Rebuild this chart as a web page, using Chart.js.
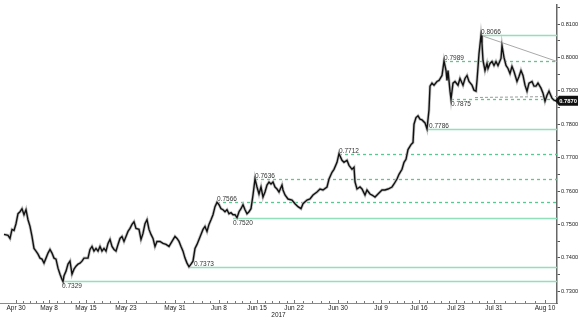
<!DOCTYPE html>
<html>
<head>
<meta charset="utf-8">
<script src="https://cdn.jsdelivr.net/npm/chart.js@4.4.1/dist/chart.umd.min.js"></script>
<style>
  html, body { margin: 0; padding: 0; background: #fff; }
  #wrap { width: 578px; height: 323px; }
</style>
</head>
<body>
<div id="wrap"><canvas id="chart" width="578" height="323"></canvas></div>
<script>
// x is the position along the trading-time axis (weekends skipped), 0..557
const xMax = 557;

// date labels on the x axis and where they sit
const tickLabels = ['Apr 30', 'May 8', 'May 15', 'May 23', 'May 31', 'Jun 8', 'Jun 15', 'Jun 22', 'Jun 30', 'Jul 9', 'Jul 16', 'Jul 23', 'Jul 31', 'Aug 10'];
const tickPos = [16, 49, 86, 126, 175, 219, 257, 294, 338, 381, 419, 456, 494, 545];

// y axis ticks (labels only on the whole hundredths)
const yTicks = [0.7300, 0.7350, 0.7400, 0.7450, 0.7500, 0.7550, 0.7600, 0.7650, 0.7700, 0.7750, 0.7800, 0.7850, 0.7900, 0.7950, 0.8000, 0.8050, 0.8100, 0.8150];

// price series
const priceX = [4, 8, 10, 12, 14, 16, 18, 20, 22, 24, 26, 28, 30, 32, 34, 36, 38, 40, 42, 44, 46, 48, 50, 52, 54, 56, 58, 60, 62, 63, 64, 66, 68, 70, 72, 74, 76, 78, 80, 82, 84, 86, 88, 90, 92, 94, 96, 98, 100, 102, 104, 106, 108, 110, 112, 114, 116, 118, 120, 122, 124, 126, 128, 130, 132, 134, 136,
  139, 141, 143, 145, 147, 149, 151, 153, 155, 157, 160, 163, 166, 169, 172, 175, 177, 179, 181, 183, 185, 187, 189, 191, 193, 195, 197, 199, 201, 203, 205, 207, 209, 211, 213, 215, 217, 219, 221, 223, 225, 227, 229, 231, 233, 235, 237, 239, 241, 243, 245, 247, 249, 251, 253, 255, 257, 259, 261, 263, 265, 267, 269, 271, 273, 275, 277, 279,
  282, 283, 285, 288, 292, 295, 298, 301, 303, 307, 310, 313, 317, 320, 323, 327, 329, 332, 334, 337, 339, 342, 344, 347, 349, 352, 354, 355, 357, 360, 362, 365, 367, 370, 372, 375, 378, 382, 385, 388, 392, 394, 397, 399, 402, 404, 406, 408, 411, 413,
  414, 416, 418, 420, 422, 425, 427, 429, 430, 432, 434, 437, 439, 442, 444, 446, 447, 448, 450, 451, 453, 455, 458, 460, 463, 465, 467, 469, 472, 474, 476, 477, 479, 481, 482, 483, 485, 487, 488, 490, 492, 494, 496, 498, 501, 502, 504, 506, 508, 510, 512, 514, 517, 519, 521, 523, 525, 527, 529, 532, 534, 536, 538, 541, 543, 545, 547, 549, 552, 554, 556];
const priceY = [0.7470, 0.7467, 0.7458, 0.7485, 0.7482, 0.7502, 0.7532, 0.7538, 0.7547, 0.7529, 0.7544, 0.7514, 0.7494, 0.7464, 0.7428, 0.7420, 0.7411, 0.7399, 0.7396, 0.7384, 0.7399, 0.7414, 0.7425, 0.7414, 0.7399, 0.7396, 0.7369, 0.7351, 0.7335, 0.7329, 0.7346, 0.7360, 0.7381, 0.7390, 0.7351, 0.7366, 0.7375, 0.7381, 0.7384, 0.7390, 0.7399, 0.7399, 0.7399, 0.7425, 0.7434, 0.7420, 0.7428, 0.7420, 0.7434, 0.7420, 0.7428, 0.7420, 0.7443, 0.7455, 0.7434, 0.7425, 0.7420, 0.7440, 0.7458, 0.7464, 0.7449, 0.7464, 0.7479, 0.7488, 0.7500, 0.7508, 0.7488,
  0.7485, 0.7455, 0.7473, 0.7502, 0.7514, 0.7485, 0.7470, 0.7458, 0.7434, 0.7449, 0.7449, 0.7443, 0.7440, 0.7434, 0.7449, 0.7464, 0.7458, 0.7449, 0.7434, 0.7420, 0.7399, 0.7384, 0.7373, 0.7381, 0.7390, 0.7428, 0.7440, 0.7455, 0.7470, 0.7485, 0.7494, 0.7479, 0.7500, 0.7514, 0.7529, 0.7553, 0.7566, 0.7559, 0.7547, 0.7544, 0.7538, 0.7544, 0.7532, 0.7535, 0.7529, 0.7529, 0.7520, 0.7538, 0.7547, 0.7559, 0.7544, 0.7532, 0.7538, 0.7547, 0.7588, 0.7636, 0.7612, 0.7591, 0.7612, 0.7582, 0.7597, 0.7618, 0.7627, 0.7621, 0.7627, 0.7612, 0.7606, 0.7597,
  0.7618, 0.7603, 0.7588, 0.7576, 0.7573, 0.7562, 0.7553, 0.7547, 0.7562, 0.7573, 0.7576, 0.7588, 0.7597, 0.7606, 0.7603, 0.7612, 0.7636, 0.7656, 0.7665, 0.7686, 0.7712, 0.7692, 0.7686, 0.7692, 0.7677, 0.7665, 0.7671, 0.7627, 0.7606, 0.7612, 0.7606, 0.7588, 0.7603, 0.7591, 0.7588, 0.7582, 0.7591, 0.7603, 0.7603, 0.7606, 0.7612, 0.7621, 0.7636, 0.7650, 0.7665, 0.7686, 0.7695, 0.7724, 0.7739, 0.7745,
  0.7800, 0.7820, 0.7825, 0.7815, 0.7813, 0.7804, 0.7786, 0.7843, 0.7914, 0.7923, 0.7917, 0.7928, 0.7931, 0.7946, 0.7989, 0.7961, 0.7931, 0.7961, 0.7899, 0.7875, 0.7923, 0.7928, 0.7917, 0.7937, 0.7917, 0.7937, 0.7946, 0.7928, 0.7917, 0.7902, 0.7899, 0.7931, 0.8011, 0.8066, 0.8041, 0.7991, 0.7961, 0.7982, 0.7967, 0.7982, 0.7988, 0.7976, 0.7988, 0.7976, 0.7997, 0.8035, 0.8000, 0.7976, 0.7967, 0.7952, 0.7973, 0.7958, 0.7928, 0.7943, 0.7961, 0.7946, 0.7917, 0.7899, 0.7923, 0.7928, 0.7914, 0.7914, 0.7923, 0.7908, 0.7893, 0.7869, 0.7887, 0.7899, 0.7878, 0.7872, 0.7870];

const lastPrice = 0.7870;

// support / resistance levels and where each one starts
const levelValues = [0.8066, 0.7989, 0.7875, 0.7786, 0.7712, 0.7636, 0.7566, 0.7520, 0.7373, 0.7329];
const levelFrom = [481, 444, 451, 427, 339, 255, 217, 233, 189, 62];

// trend lines
const trendTop = [{ x: 481, y: 0.8066 }, { x: 557, y: 0.7988 }];
const trendLow = [{ x: 475, y: 0.7883 }, { x: 557, y: 0.7885 }];

// how each level is drawn (kept apart from the values)
const levelDashed = [false, true, true, false, true, true, true, false, false, false];
const levelLabelSide = ['above', 'above', 'below', 'above', 'above', 'above', 'above', 'below', 'above', 'below'];
const levelLabelShift = [0, 0, 0, 2, 0, 0, 0, 0, 5, 0];

const solidGreen = '#92e0bb';
const dashGreen = '#56ca90';
const fontFam = '"Liberation Sans", Arial, sans-serif';

const pricePts = priceX.map((x, i) => ({ x: x, y: priceY[i] }));

const datasets = [
  { data: pricePts, borderColor: '#111', borderWidth: 1.4, pointRadius: 0, tension: 0 },
  { data: pricePts, borderColor: '#c4c4c4', borderWidth: 3, pointRadius: 0, tension: 0 },
  { data: trendTop, borderColor: '#a9a9a9', borderWidth: 1, pointRadius: 0 }
];

// horizontal levels go under the price, snapped to whole pixels
const levels = {
  id: 'levels',
  beforeDatasetsDraw(chart) {
    const c = chart.ctx, xs = chart.scales.x, ys = chart.scales.y;
    const right = chart.chartArea.right;
    c.save();
    c.lineWidth = 1.3;
    levelValues.forEach((v, i) => {
      const py = Math.round(ys.getPixelForValue(v)) + 0.5;
      const px = xs.getPixelForValue(levelFrom[i]);
      c.strokeStyle = levelDashed[i] ? dashGreen : solidGreen;
      c.setLineDash(levelDashed[i] ? [3, 3] : []);
      c.beginPath(); c.moveTo(px, py); c.lineTo(right, py); c.stroke();
    });
    // grey dashed trend line near the late-July lows
    c.lineWidth = 1;
    c.strokeStyle = '#9a9a9a';
    c.setLineDash([3, 2]);
    c.beginPath();
    c.moveTo(xs.getPixelForValue(trendLow[0].x), Math.round(ys.getPixelForValue(trendLow[0].y)) + 0.5);
    c.lineTo(xs.getPixelForValue(trendLow[1].x), Math.round(ys.getPixelForValue(trendLow[1].y)) + 0.5);
    c.stroke();
    c.restore();
  },
  afterDatasetsDraw(chart) {
    const c = chart.ctx, xs = chart.scales.x, ys = chart.scales.y;
    c.save();
    c.font = '6.5px ' + fontFam;
    c.fillStyle = '#333';
    c.textAlign = 'left';
    levelValues.forEach((v, i) => {
      const px = xs.getPixelForValue(levelFrom[i]) + levelLabelShift[i];
      const py = Math.round(ys.getPixelForValue(v));
      if (levelLabelSide[i] === 'above') {
        c.textBaseline = 'bottom';
        c.fillText(v.toFixed(4), px, py);
      } else {
        c.textBaseline = 'top';
        c.fillText(v.toFixed(4), px, py + 2);
      }
    });
    c.restore();
  },
  afterDraw(chart) {
    const c = chart.ctx, xs = chart.scales.x, ys = chart.scales.y;
    const bottom = chart.chartArea.bottom;
    c.save();
    // small ticks standing up from the date axis
    c.strokeStyle = '#777';
    c.lineWidth = 1;
    for (let i = 0; i < tickPos.length; i++) {
      const px = Math.round(xs.getPixelForValue(tickPos[i])) + 0.5;
      c.beginPath(); c.moveTo(px, bottom); c.lineTo(px, bottom - 3); c.stroke();
      if (i < tickPos.length - 1) {
        const nx = xs.getPixelForValue(tickPos[i + 1]);
        for (let k = 1; k < 5; k++) {
          const mx = Math.round(px + (nx - px) * k / 5) + 0.5;
          c.beginPath(); c.moveTo(mx, bottom); c.lineTo(mx, bottom - 2); c.stroke();
        }
      }
    }
    // last price tag on the right axis
    const py = ys.getPixelForValue(lastPrice);
    const left = chart.chartArea.right;
    c.fillStyle = '#111';
    c.beginPath();
    c.moveTo(left - 2, py);
    c.lineTo(left + 2, py - 5);
    c.lineTo(578, py - 5);
    c.lineTo(578, py + 5);
    c.lineTo(left + 2, py + 5);
    c.closePath();
    c.fill();
    c.fillStyle = '#fff';
    c.font = 'bold 5.8px ' + fontFam;
    c.textAlign = 'center';
    c.textBaseline = 'middle';
    c.fillText(lastPrice.toFixed(4), left + 11, py + 0.5);
    c.restore();
  }
};

new Chart(document.getElementById('chart'), {
  type: 'line',
  data: { datasets: datasets },
  options: {
    responsive: false,
    animation: false,
    devicePixelRatio: 1,
    layout: { padding: 0, autoPadding: false },
    plugins: { legend: { display: false }, tooltip: { enabled: false } },
    scales: {
      x: {
        type: 'linear',
        position: 'bottom',
        min: 0,
        max: xMax,
        afterBuildTicks: s => { s.ticks = tickPos.map(v => ({ value: v })); },
        afterFit: s => { s.height = 20; },
        ticks: {
          autoSkip: false,
          maxRotation: 0,
          padding: 1,
          color: '#222',
          font: { family: fontFam, size: 6.5 },
          callback: v => tickLabels[tickPos.indexOf(v)]
        },
        grid: { display: true, drawOnChartArea: false, drawTicks: false },
        border: { display: true, color: '#8a8a8a', width: 1 },
        title: {
          display: true,
          text: '2017',
          color: '#222',
          font: { family: fontFam, size: 6.5 },
          padding: { top: 0, bottom: 4 }
        }
      },
      y: {
        type: 'linear',
        position: 'right',
        min: 0.72646,
        max: 0.81590,
        afterBuildTicks: s => { s.ticks = yTicks.map(v => ({ value: v })); },
        afterFit: s => { s.width = 21; },
        ticks: {
          padding: 1,
          color: '#222',
          font: { family: fontFam, size: 5.6 },
          callback: v => (Math.round(v * 1000) % 10 === 0 ? v.toFixed(4) : '')
        },
        grid: { display: true, drawOnChartArea: false, tickLength: 3, color: '#555' },
        border: { display: true, color: '#666', width: 1.5 }
      }
    }
  },
  plugins: [levels]
});
</script>
</body>
</html>
